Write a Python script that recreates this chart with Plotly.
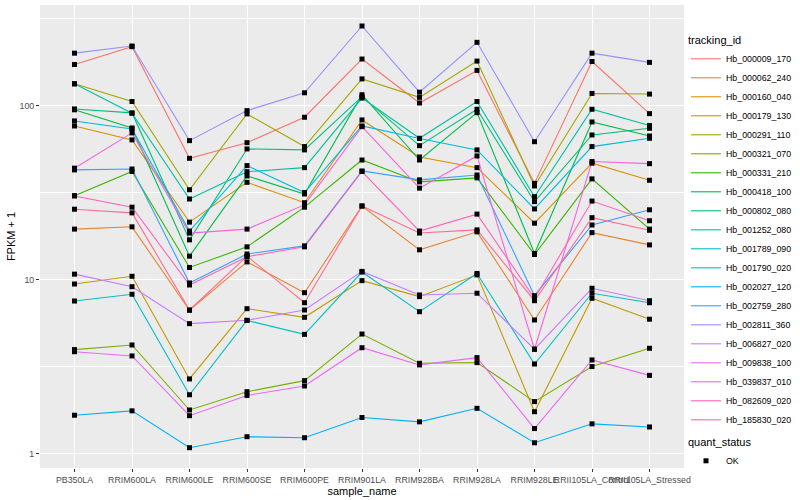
import plotly.graph_objects as go

# ---------------- data ----------------
sample_names = ["PB350LA", "RRIM600LA", "RRIM600LE", "RRIM600SE", "RRIM600PE",
                "RRIM901LA", "RRIM928BA", "RRIM928LA", "RRIM928LE",
                "RRII105LA_Control", "RRII105LA_Stressed"]

tracking_ids = ["Hb_000009_170", "Hb_000062_240", "Hb_000160_040", "Hb_000179_130",
                "Hb_000291_110", "Hb_000321_070", "Hb_000331_210", "Hb_000418_100",
                "Hb_000802_080", "Hb_001252_080", "Hb_001789_090", "Hb_001790_020",
                "Hb_002027_120", "Hb_002759_280", "Hb_002811_360", "Hb_006827_020",
                "Hb_009838_100", "Hb_039837_010", "Hb_082609_020", "Hb_185830_020"]

# FPKM + 1 per sample (order of sample_names)
hb_000009_170 = [173, 219, 50.0, 61.5, 86.1, 186, 104, 160, 35.9, 180, 90.3]
hb_000062_240 = [19.6, 20.2, 6.7, 12.7, 8.45, 26.6, 14.9, 18.9, 5.89, 18.7, 15.9]
hb_000160_040 = [76.7, 63.8, 21.5, 36.4, 27.8, 83.1, 50.9, 44.2, 21.2, 46.9, 37.4]
hb_000179_130 = [9.48, 10.5, 2.70, 6.84, 6.10, 9.91, 8.02, 10.7, 1.75, 7.85, 5.95]
hb_000291_110 = [134, 106, 33.0, 90.0, 58.4, 143, 112, 181, 34.7, 118, 117]
hb_000321_070 = [3.98, 4.23, 1.79, 2.28, 2.64, 4.89, 3.32, 3.35, 2.00, 3.18, 4.05]
hb_000331_210 = [30.5, 42.0, 11.8, 15.5, 26.2, 48.9, 36.6, 38.6, 14.0, 38.1, 19.6]
hb_000418_100 = [95.0, 74.7, 13.7, 39.6, 31.2, 116, 48.9, 91.5, 14.2, 80.9, 67.2]
hb_000802_080 = [96.1, 91.2, 17.0, 56.6, 55.9, 113, 59.1, 95.7, 28.2, 68.1, 74.4]
hb_001252_080 = [134, 90.8, 29.2, 41.9, 44.2, 111, 65.2, 106, 30.1, 95.7, 77.1]
hb_001789_090 = [7.57, 8.28, 2.19, 5.85, 4.87, 11.1, 6.57, 10.9, 3.29, 8.39, 7.40]
hb_001790_020 = [82.0, 73.8, 19.1, 45.4, 31.8, 76.7, 65.0, 55.9, 25.6, 58.4, 65.2]
hb_002027_120 = [1.67, 1.77, 1.087, 1.257, 1.24, 1.62, 1.53, 1.83, 1.16, 1.49, 1.43]
hb_002759_280 = [42.9, 43.4, 9.61, 14.1, 15.7, 42.3, 37.6, 40.1, 8.12, 20.7, 25.3]
hb_002811_360 = [201, 221, 63.2, 94.0, 119, 288, 120, 232, 62.3, 201, 178]
hb_006827_020 = [10.8, 9.15, 5.61, 5.87, 6.72, 11.2, 8.20, 8.39, 4.00, 8.96, 7.60]
hb_009838_100 = [3.87, 3.66, 1.66, 2.17, 2.46, 4.08, 3.25, 3.58, 1.40, 3.47, 2.83]
hb_039837_010 = [43.9, 70.0, 18.6, 19.6, 27.0, 76.0, 33.7, 51.6, 4.00, 47.9, 46.6]
hb_082609_020 = [30.4, 26.2, 9.36, 13.6, 15.5, 42.0, 19.1, 23.9, 7.85, 28.4, 21.9]
hb_185830_020 = [25.5, 24.3, 6.72, 13.7, 7.40, 26.6, 18.6, 19.4, 7.60, 22.8, 19.3]

quant_status = "OK"

y_tick_values = [1, 10, 100]
y_tick_labels = ["1", "10", "100"]
y_minor_values = [3.1623, 31.623, 316.23]

# ---------------- styling ----------------
palette = ["#F8766D", "#EA8331", "#D89000", "#C09B00", "#A3A500", "#7CAE00",
           "#39B600", "#00BB4E", "#00BF7D", "#00C1A3", "#00BFC4", "#00BAE0",
           "#00B0F6", "#35A2FF", "#9590FF", "#C77CFF", "#E76BF3", "#FA62DB",
           "#FF62BC", "#FF6C91"]

series_values = [hb_000009_170, hb_000062_240, hb_000160_040, hb_000179_130,
                 hb_000291_110, hb_000321_070, hb_000331_210, hb_000418_100,
                 hb_000802_080, hb_001252_080, hb_001789_090, hb_001790_020,
                 hb_002027_120, hb_002759_280, hb_002811_360, hb_006827_020,
                 hb_009838_100, hb_039837_010, hb_082609_020, hb_185830_020]

FONT = "Liberation Sans, Arial, sans-serif"

fig = go.Figure()
for tid, vals, col in zip(tracking_ids, series_values, palette):
    fig.add_trace(go.Scatter(
        x=sample_names, y=vals, mode="lines", name=tid,
        line=dict(color=col, width=1.1), legend="legend",
    ))

pts_x, pts_y = [], []
for vals in series_values:
    pts_x.extend(sample_names)
    pts_y.extend(vals)
fig.add_trace(go.Scatter(
    x=pts_x, y=pts_y, mode="markers", name=quant_status,
    marker=dict(symbol="square", size=5, color="black"),
    legend="legend2",
))

W, H = 800, 500
ml, mr, mt, mb = 40, 116, 5, 32
pw = W - ml - mr
ph = H - mt - mb

def px_x(x):
    return (x - ml) / pw

def px_y(y):
    return (H - mb - y) / ph

fig.update_layout(
    width=W, height=H,
    margin=dict(l=ml, r=mr, t=mt, b=mb, autoexpand=False),
    paper_bgcolor="white",
    plot_bgcolor="#EBEBEB",
    font=dict(family=FONT, size=11, color="black"),
    showlegend=True,
    legend=dict(
        title=dict(text="tracking_id", font=dict(size=11, color="black")),
        font=dict(size=8.8, color="black"),
        x=px_x(686), y=px_y(30), xanchor="left", yanchor="top",
        bgcolor="white", tracegroupgap=0, itemwidth=30,
    ),
    legend2=dict(
        title=dict(text="quant_status", font=dict(size=11, color="black")),
        font=dict(size=8.8, color="black"),
        x=px_x(686), y=px_y(432), xanchor="left", yanchor="top",
        bgcolor="white", itemwidth=30,
    ),
    xaxis=dict(
        type="category", categoryorder="array", categoryarray=sample_names,
        range=[-0.6, len(sample_names) - 0.4],
        showgrid=True, gridcolor="white", gridwidth=1.1,
        zeroline=False, showline=False,
        ticks="outside", ticklen=3, tickcolor="#333333", tickwidth=1,
        tickangle=0,
        tickfont=dict(size=8.8, color="#4D4D4D"),
        title=dict(text="sample_name", font=dict(size=11, color="black"), standoff=3),
    ),
    yaxis=dict(
        type="log",
        range=[-0.0805, 2.580],
        tickmode="array", tickvals=y_tick_values, ticktext=y_tick_labels,
        showgrid=True, gridcolor="white", gridwidth=1.1,
        minor=dict(tickmode="array", tickvals=y_minor_values, showgrid=True,
                   gridcolor="white", gridwidth=0.55, ticks=""),
        zeroline=False, showline=False,
        ticks="outside", ticklen=3, tickcolor="#333333", tickwidth=1,
        tickfont=dict(size=8.8, color="#4D4D4D"),
        title=dict(text="FPKM + 1", font=dict(size=11, color="black"), standoff=1),
    ),
)

fig.write_html("out.html",
               config={"displayModeBar": False},
               post_script="document.body.style.margin='0';document.body.style.overflow='hidden';")
